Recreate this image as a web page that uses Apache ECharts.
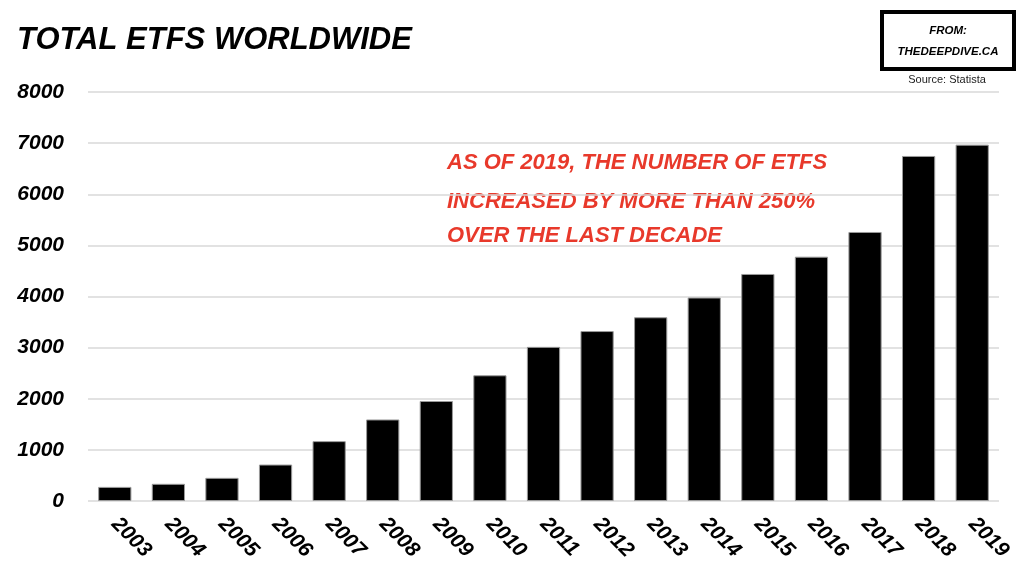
<!DOCTYPE html>
<html>
<head>
<meta charset="utf-8">
<script src="https://cdn.jsdelivr.net/npm/echarts@6/dist/echarts.min.js"></script>
<style>html,body{margin:0;padding:0;background:#fff;}#c{width:1024px;height:584px;}</style>
</head>
<body>
<div id="c"></div>
<script>
const years = ['2003','2004','2005','2006','2007','2008','2009','2010','2011','2012','2013','2014','2015','2016','2017','2018','2019'];
const etfCounts = [276, 336, 453, 713, 1171, 1595, 1956, 2459, 3015, 3324, 3594, 3980, 4441, 4779, 5262, 6749, 6970];
const yTicks = { min: 0, max: 8000, interval: 1000 };
const titleText = 'TOTAL ETFS WORLDWIDE';
const noteLines = ['AS OF 2019, THE NUMBER OF ETFS', 'INCREASED BY MORE THAN 250%', 'OVER THE LAST DECADE'];
const sourceText = 'Source: Statista';
const fromLines = ['FROM:', 'THEDEEPDIVE.CA'];

const FONT = '"Liberation Sans", Arial, sans-serif';
const chart = echarts.init(document.getElementById('c'), null, {renderer: 'canvas'});
const red = '#e8392b';

chart.setOption({
  backgroundColor: '#fff',
  animation: false,
  grid: { left: 88, right: 25, top: 92, bottom: 83, containLabel: false },
  xAxis: {
    type: 'category',
    data: years,
    axisLine: { show: false },
    axisTick: { show: false },
    axisLabel: {
      rotate: -45, margin: 20, color: '#000',
      fontFamily: FONT, fontWeight: 'bold', fontStyle: 'italic', fontSize: 21, interval: 0
    }
  },
  yAxis: {
    type: 'value',
    min: yTicks.min, max: yTicks.max, interval: yTicks.interval,
    axisLine: { show: false },
    axisTick: { show: false },
    splitLine: { lineStyle: { color: '#d9d9d9', width: 1.5 } },
    axisLabel: {
      margin: 24, color: '#000',
      formatter: v => String(v),
      fontFamily: FONT, fontWeight: 'bold', fontStyle: 'italic', fontSize: 21
    }
  },
  series: [{
    type: 'bar',
    data: etfCounts,
    barWidth: '62%',
    itemStyle: { color: '#000', borderColor: '#9a9a9a', borderWidth: 1 }
  }],
  graphic: [
    { type: 'text', left: 17, top: 25,
      style: { text: titleText, fill: '#000', font: 'italic bold 31px ' + FONT } },
    { type: 'rect', shape: { x: 882, y: 12, width: 132, height: 57 },
      style: { fill: '#fff', stroke: '#000', lineWidth: 4 } },
    { type: 'text', x: 948, y: 31,
      style: { text: fromLines[0], fill: '#000', font: 'italic bold 11.5px ' + FONT, align: 'center', verticalAlign: 'middle' } },
    { type: 'text', x: 948, y: 52,
      style: { text: fromLines[1], fill: '#000', font: 'italic bold 11.5px ' + FONT, align: 'center', verticalAlign: 'middle' } },
    { type: 'text', x: 947, y: 80,
      style: { text: sourceText, fill: '#222', font: '11px ' + FONT, align: 'center', verticalAlign: 'middle' } },
    { type: 'text', x: 447, y: 163,
      style: { text: noteLines[0], fill: red, font: 'italic bold 22px ' + FONT, verticalAlign: 'middle' } },
    { type: 'text', x: 447, y: 202,
      style: { text: noteLines[1], fill: red, font: 'italic bold 22px ' + FONT, verticalAlign: 'middle' } },
    { type: 'text', x: 447, y: 236,
      style: { text: noteLines[2], fill: red, font: 'italic bold 22px ' + FONT, verticalAlign: 'middle' } }
  ]
});
</script>
</body>
</html>
